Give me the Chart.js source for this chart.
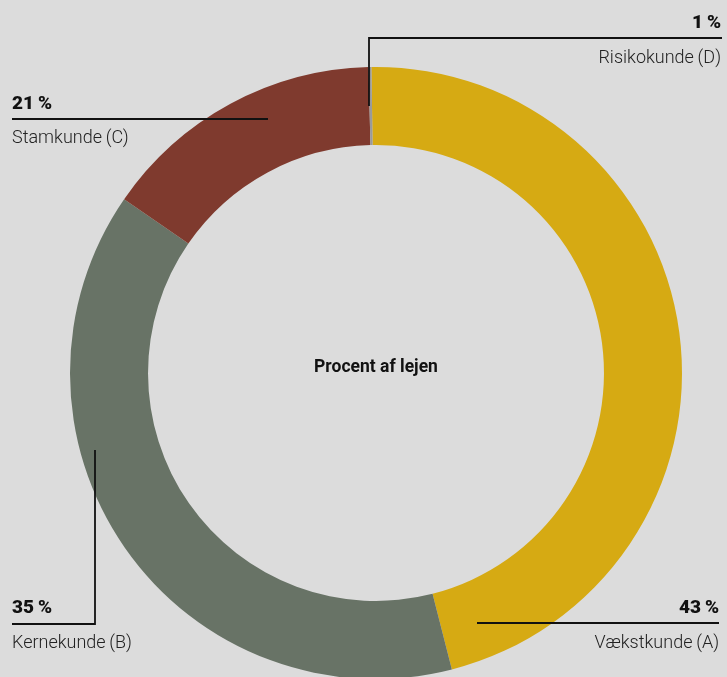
<!DOCTYPE html>
<html>
<head>
<meta charset="utf-8">
<script src="https://cdn.jsdelivr.net/npm/chart.js@4.4.1/dist/chart.umd.min.js"></script>
<style>
  html, body {
    margin: 0;
    padding: 0;
    background: #dcdcdc;
    overflow: hidden;
  }
  #wrap {
    position: relative;
    width: 727px;
    height: 700px;
  }
</style>
</head>
<body>
<div id="wrap"><canvas id="chart" width="727" height="700"></canvas></div>
<script>
// data
const categories = ['Vækstkunde\u2009(A)', 'Kernekunde\u2009(B)', 'Stamkunde\u2009(C)', 'Risikokunde\u2009(D)'];
const shareLabels = ['43\u2009%', '35\u2009%', '21\u2009%', '1\u2009%'];
// arc sizes as drawn in the picture
const arcValues = [46.25, 38.6, 15.0, 0.15];
const sliceColors = ['#d6aa13', '#687366', '#7f3a2e', '#9a9a9a'];
const centerTitle = 'Procent af lejen';

// where each callout goes (layout only)
const callouts = [
  { align: 'right', x: 719, pctY: 613, nameY: 648, line: [[477, 623], [719, 623]] },
  { align: 'left', x: 12, pctY: 613, nameY: 648, line: [[95, 450], [95, 624], [12, 624]] },
  { align: 'left', x: 12, pctY: 109, nameY: 143, line: [[268, 119], [12, 119]] },
  { align: 'right', x: 721, pctY: 28, nameY: 63, line: [[369, 106], [369, 38], [722, 38]] }
];

const calloutPlugin = {
  id: 'callouts',
  afterDraw(chart) {
    const ctx = chart.ctx;
    ctx.save();
    ctx.strokeStyle = '#111';
    ctx.lineWidth = 1.8;
    callouts.forEach((c, i) => {
      ctx.beginPath();
      c.line.forEach((p, j) => j ? ctx.lineTo(p[0], p[1]) : ctx.moveTo(p[0], p[1]));
      ctx.stroke();
      ctx.textAlign = c.align;
      ctx.textBaseline = 'alphabetic';
      ctx.fillStyle = '#111';
      ctx.font = '900 19px Roboto';
      ctx.fillText(shareLabels[i], c.x, c.pctY);
      ctx.font = '300 18px Roboto';
      ctx.fillStyle = '#222';
      ctx.fillText(categories[i], c.x, c.nameY);
    });
    const area = chart.chartArea;
    ctx.fillStyle = '#111';
    ctx.textAlign = 'center';
    ctx.textBaseline = 'middle';
    ctx.font = 'bold 17.5px Roboto';
    ctx.fillText(centerTitle, (area.left + area.right) / 2, (area.top + area.bottom) / 2 - 5);
    ctx.restore();
  }
};

new Chart(document.getElementById('chart'), {
  type: 'doughnut',
  data: {
    labels: categories,
    datasets: [{
      data: arcValues,
      backgroundColor: sliceColors,
      borderWidth: 0
    }]
  },
  options: {
    responsive: false,
    animation: false,
    devicePixelRatio: 1,
    rotation: -0.86,
    cutout: '74.5%',
    layout: { padding: { top: 67, bottom: 21, left: 70, right: 45 } },
    plugins: {
      legend: { display: false },
      tooltip: { enabled: false }
    }
  },
  plugins: [calloutPlugin]
});
</script>
</body>
</html>
